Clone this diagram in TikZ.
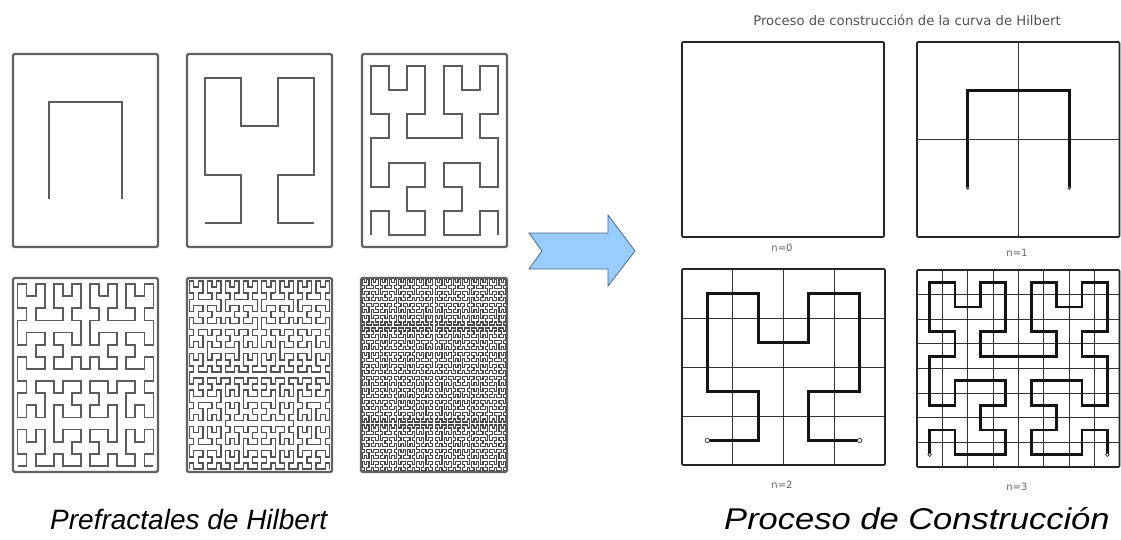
\documentclass[tikz,border=0pt]{standalone}
\usepackage{fontspec}
\setmainfont{Liberation Sans}
\newfontfamily\smallfont{DejaVu Sans}
\definecolor{arrowblue}{HTML}{99CCFF}
\definecolor{arrowedge}{HTML}{4A6A8A}
\makeatletter
\newif\ifhfirst
\newcount\hcnt
\def\hilpt#1#2{%
  \ifhfirst
    \pgfpathmoveto{\pgfqpoint{#1}{#2}}\hfirstfalse
  \else
    \pgfpathlineto{\pgfqpoint{#1}{#2}}%
    \advance\hcnt by 1\relax
    \ifnum\hcnt>150\relax
      \pgfusepath{stroke}\pgfpathmoveto{\pgfqpoint{#1}{#2}}\hcnt=0\relax
    \fi
  \fi}
\def\hil#1#2#3#4#5#6#7{%
  \ifnum#1=0\relax
    \edef\hX{\the\dimexpr #2+(#4+#6)/2\relax}%
    \edef\hY{\the\dimexpr #3+(#5+#7)/2\relax}%
    \hilpt\hX\hY
  \else
    \edef\hnext{%
      \noexpand\hil{\the\numexpr#1-1\relax}{#2}{#3}%
        {\the\dimexpr(#6)/2\relax}{\the\dimexpr(#7)/2\relax}%
        {\the\dimexpr(#4)/2\relax}{\the\dimexpr(#5)/2\relax}%
      \noexpand\hil{\the\numexpr#1-1\relax}%
        {\the\dimexpr#2+(#4)/2\relax}{\the\dimexpr#3+(#5)/2\relax}%
        {\the\dimexpr(#4)/2\relax}{\the\dimexpr(#5)/2\relax}%
        {\the\dimexpr(#6)/2\relax}{\the\dimexpr(#7)/2\relax}%
      \noexpand\hil{\the\numexpr#1-1\relax}%
        {\the\dimexpr#2+(#4)/2+(#6)/2\relax}{\the\dimexpr#3+(#5)/2+(#7)/2\relax}%
        {\the\dimexpr(#4)/2\relax}{\the\dimexpr(#5)/2\relax}%
        {\the\dimexpr(#6)/2\relax}{\the\dimexpr(#7)/2\relax}%
      \noexpand\hil{\the\numexpr#1-1\relax}%
        {\the\dimexpr#2+(#4)/2+(#6)\relax}{\the\dimexpr#3+(#5)/2+(#7)\relax}%
        {\the\dimexpr0pt-(#6)/2\relax}{\the\dimexpr0pt-(#7)/2\relax}%
        {\the\dimexpr0pt-(#4)/2\relax}{\the\dimexpr0pt-(#5)/2\relax}%
    }%
    \expandafter\hnext
  \fi}
% #1 order, #2 xl, #3 yt, #4 xr, #5 yb (image px, y down)
\newcommand\hcurve[5]{%
  \hfirsttrue\hcnt=0\relax
  \hil{#1}{#2pt}{-#5pt}{0pt}{\the\dimexpr#5pt-#3pt\relax}{\the\dimexpr#4pt-#2pt\relax}{0pt}%
  \pgfusepath{stroke}}
\makeatother
\tikzset{
  lframe/.style={draw=black!62, line width=2.2pt, rounded corners=1.5pt},
  lcurve/.style={draw=black!64, line cap=butt, line join=miter},
  rframe/.style={draw=black!85, line width=1.6pt, rounded corners=1pt},
  rgrid/.style={draw=black!80, line width=1pt},
  rcurve/.style={draw=black!92, line join=miter},
  endpt/.style={draw=black!80, fill=white, line width=0.7pt},
  nlabel/.style={font=\smallfont\fontsize{10}{11}\selectfont, text=black!60, inner sep=0pt},
  biglabel/.style={text=black, inner sep=0pt, anchor=base west}
}
\begin{document}
\begin{tikzpicture}[x=1pt,y=-1pt]
\useasboundingbox (0,0) rectangle (1121,540);
\fill[white] (0,0) rectangle (1121,540);

% ---------- left: prefractales ----------
\begin{scope}[lcurve, line width=2pt]\hcurve{1}{13}{54}{158}{247}\end{scope}
\begin{scope}[lcurve, line width=2pt]\hcurve{2}{187}{54}{332}{247}\end{scope}
\begin{scope}[lcurve, line width=1.9pt]\hcurve{3}{362}{54}{507}{247}\end{scope}
\begin{scope}[lcurve, line width=1.8pt]\hcurve{4}{13}{278}{158}{472}\end{scope}
\begin{scope}[lcurve, line width=1.4pt, draw=black!68]\hcurve{5}{187}{278}{332}{472}\end{scope}
\begin{scope}[lcurve, line width=1.15pt, draw=black!72]\hcurve{6}{361}{278}{507}{472}\end{scope}
\draw[lframe] (13,54) rectangle (158,247);
\draw[lframe] (187,54) rectangle (332,247);
\draw[lframe] (362,54) rectangle (507,247);
\draw[lframe] (13,278) rectangle (158,472);
\draw[lframe] (187,278) rectangle (332,472);
\draw[lframe] (361,278) rectangle (507,472);

% ---------- arrow ----------
\draw[fill=arrowblue, draw=arrowedge, line width=0.8pt, line join=miter]
  (529,233) -- (608,233) -- (608,215) -- (635,251) -- (608,286) -- (608,269)
  -- (529,269) -- (542,251) -- cycle;

% ---------- right: construction ----------
\node[font=\smallfont\fontsize{13.2}{15}\selectfont, text=black!68, inner sep=0pt] (title) at (907,20)
  {Proceso de construcción de la curva de Hilbert};

% n=0
\draw[rframe] (682,42) rectangle (884,237);
% n=1
\draw[rgrid] (1018.5,42) -- (1018.5,237);
\draw[rgrid] (917,139.5) -- (1120,139.5);
\begin{scope}[rcurve, line width=2.8pt]\hcurve{1}{917}{42}{1120}{237}\end{scope}
\draw[rframe] (917,42) rectangle (1119.5,237);
\fill[black!60] (967.75,188.25) circle (1.8);
\fill[black!60] (1069.25,188.25) circle (1.8);
% n=2
\foreach \k in {1,2,3} {
  \draw[rgrid] ({682+\k*203/4},269) -- ({682+\k*203/4},465);
  \draw[rgrid] (682,{269+\k*196/4}) -- (885,{269+\k*196/4});
}
\begin{scope}[rcurve, line width=2.8pt]\hcurve{2}{682}{269}{885}{465}\end{scope}
\draw[rframe] (682,269) rectangle (885,465);
\draw[endpt] (707.4,440.5) circle (2.2);
\draw[endpt] (859.6,440.5) circle (2.2);
% n=3
\foreach \k in {1,...,7} {
  \draw[rgrid] ({917+\k*203/8},270) -- ({917+\k*203/8},467);
  \draw[rgrid] (917,{270+\k*197/8}) -- (1120,{270+\k*197/8});
}
\begin{scope}[rcurve, line width=2.7pt]\hcurve{3}{917}{270}{1120}{467}\end{scope}
\draw[rframe] (917,270) rectangle (1119.5,467);
\draw[endpt] (929.7,454.7) circle (1.8);
\draw[endpt] (1107.3,454.7) circle (1.8);

\node[nlabel] (n0) at (782,248) {n=0};
\node[nlabel] (n1) at (1017,253) {n=1};
\node[nlabel] (n2) at (782,485) {n=2};
\node[nlabel] (n3) at (1017,487) {n=3};

% ---------- captions ----------
\node[biglabel, font=\itshape\fontsize{28}{30}\selectfont] (capL) at (50,529) {Prefractales de Hilbert};
\node[biglabel, font=\itshape\fontsize{30}{32}\selectfont, xscale=1.15] (capR) at (724,529) {Proceso de Construcción};
\end{tikzpicture}
\end{document}
